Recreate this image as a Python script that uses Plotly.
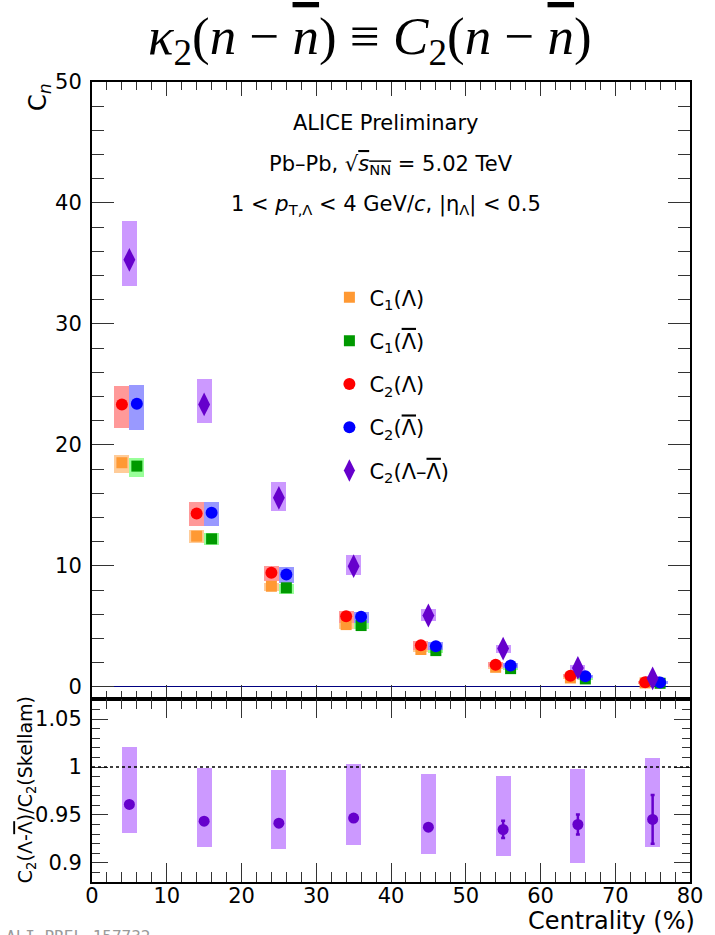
import plotly.graph_objects as go

# Centrality bins (%), bin centres
centrality = [5, 15, 25, 35, 45, 55, 65, 75]

# C1 of Lambda and anti-Lambda, with systematic band edges
c1_lam = [18.53, 12.46, 8.32, 5.15, 3.09, 1.62, 0.74, 0.33]
c1_lam_sys_hi = [19.16, 12.93, 8.60, 5.43, 3.30, 1.75, 0.82, 0.38]
c1_lam_sys_lo = [17.70, 11.91, 7.91, 4.80, 2.88, 1.49, 0.66, 0.28]
c1_alam = [18.25, 12.24, 8.19, 5.07, 3.00, 1.51, 0.66, 0.30]
c1_alam_sys_hi = [18.94, 12.74, 8.54, 5.35, 3.21, 1.64, 0.74, 0.35]
c1_alam_sys_lo = [17.34, 11.71, 7.72, 4.75, 2.79, 1.38, 0.58, 0.25]

# C2 of Lambda and anti-Lambda
c2_lam = [23.35, 14.33, 9.43, 5.84, 3.44, 1.84, 0.93, 0.38]
c2_lam_sys_hi = [24.87, 15.27, 9.98, 6.25, 3.77, 2.05, 1.07, 0.48]
c2_lam_sys_lo = [21.42, 13.34, 8.73, 5.29, 3.09, 1.63, 0.79, 0.28]
c2_alam = [23.40, 14.39, 9.29, 5.79, 3.36, 1.76, 0.88, 0.37]
c2_alam_sys_hi = [24.95, 15.30, 9.93, 6.21, 3.70, 1.97, 1.02, 0.47]
c2_alam_sys_lo = [21.22, 13.28, 8.60, 5.29, 3.02, 1.55, 0.74, 0.27]

# C2 of net-Lambda
c2_net = [35.30, 23.35, 15.63, 9.98, 5.90, 3.17, 1.57, 0.70]
c2_net_sys_hi = [38.53, 25.42, 16.96, 10.89, 6.45, 3.50, 1.84, 0.90]
c2_net_sys_lo = [33.10, 21.84, 14.52, 9.29, 5.43, 2.81, 1.16, 0.50]

# Ratio to Skellam baseline
ratio = [0.961, 0.9435, 0.9414, 0.9467, 0.9372, 0.9348, 0.940, 0.9453]
ratio_stat = [0.002, 0.002, 0.002, 0.002, 0.003, 0.009, 0.0105, 0.0255]
ratio_sys_hi = [1.021, 0.9994, 0.9973, 1.0035, 0.993, 0.9903, 0.9983, 1.0098]
ratio_sys_lo = [0.931, 0.9163, 0.9146, 0.9191, 0.909, 0.9069, 0.8999, 0.917]

# Particles drawn left of the bin centre, antiparticles right of it
SHIFT = 1.0
BOX_W = 2.0
x_lam = [c - SHIFT for c in centrality]
x_alam = [c + SHIFT for c in centrality]

SANS = "DejaVu Sans"


def over(s):
    return "<span style='text-decoration:overline'>" + s + "</span>"


ALAM = over("Λ")

fig = go.Figure()


def sys_box(x, lo, hi, color, xa="x", ya="y"):
    fig.add_trace(go.Bar(
        x=x, y=[h - l for h, l in zip(hi, lo)], base=lo, width=BOX_W,
        marker=dict(color=color, line=dict(width=0)),
        showlegend=False, hoverinfo="skip", xaxis=xa, yaxis=ya))


sys_box(x_lam, c1_lam_sys_lo, c1_lam_sys_hi, "#FFCC99")
sys_box(x_alam, c1_alam_sys_lo, c1_alam_sys_hi, "#99FF99")
sys_box(x_lam, c2_lam_sys_lo, c2_lam_sys_hi, "#FF9999")
sys_box(x_alam, c2_alam_sys_lo, c2_alam_sys_hi, "#9999FF")
sys_box(centrality, c2_net_sys_lo, c2_net_sys_hi, "#CC99FF")
sys_box(centrality, ratio_sys_lo, ratio_sys_hi, "#CC99FF", "x2", "y2")

series = [
    (x_lam, c1_lam, "square", 11, "#FF9933", "C<sub>1</sub>(Λ)"),
    (x_alam, c1_alam, "square", 11, "#009900", "C<sub>1</sub>(" + ALAM + ")"),
    (x_lam, c2_lam, "circle", 12, "#FF0000", "C<sub>2</sub>(Λ)"),
    (x_alam, c2_alam, "circle", 12, "#0000FF", "C<sub>2</sub>(" + ALAM + ")"),
    (centrality, c2_net, "diamond-tall", 17, "#6600CC",
     "C<sub>2</sub>(Λ\u2013" + ALAM + ")"),
]
for i, (x, y, sym, size, col, name) in enumerate(series):
    fig.add_trace(go.Scatter(
        x=x, y=y, mode="markers", name=name, legendgroup=f"g{i}",
        marker=dict(symbol=sym, size=size, color=col, line=dict(width=0)),
        xaxis="x", yaxis="y"))

fig.add_trace(go.Scatter(
    x=centrality, y=ratio, mode="markers", showlegend=False,
    marker=dict(symbol="circle", size=11, color="#6600CC"),
    error_y=dict(type="data", array=ratio_stat, color="#6600CC",
                 thickness=2.5, width=2),
    xaxis="x2", yaxis="y2"))

SPLIT = 0.22875
tick_font = dict(family=SANS, size=21, color="black")
frame = dict(showline=True, linecolor="black", linewidth=2,
             mirror="allticks", ticks="inside", tickcolor="#333",
             showgrid=False, tickfont=tick_font)

fig.update_layout(
    width=715, height=935,
    margin=dict(l=92, r=17, t=82, b=53),
    paper_bgcolor="white", plot_bgcolor="white",
    barmode="overlay", bargap=0,
    showlegend=True,
    legend=dict(x=0.397, y=0.756, xanchor="left", yanchor="top",
                bgcolor="rgba(0,0,0,0)", tracegroupgap=13,
                font=dict(family=SANS, size=21, color="black"),
                itemsizing="trace"),
    xaxis=dict(frame, domain=[0, 1], range=[0, 80], dtick=10, tick0=0,
               ticklen=14, showticklabels=False, anchor="y",
               minor=dict(dtick=2, ticklen=8, ticks="inside",
                          tickcolor="#333"), zeroline=False),
    yaxis=dict(frame, domain=[SPLIT, 1], range=[-1, 50], dtick=10,
               tick0=0, ticklen=22, anchor="x", ticklabelstandoff=4,
               minor=dict(dtick=2, ticklen=12, ticks="inside",
                          tickcolor="#333"),
               zeroline=True, zerolinecolor="#000080", zerolinewidth=1),
    xaxis2=dict(frame, domain=[0, 1], range=[0, 80], dtick=10, tick0=0,
                ticklen=19, anchor="y2", matches="x", ticklabelstandoff=-6,
                minor=dict(dtick=2, ticklen=10, ticks="inside",
                           tickcolor="#333"), zeroline=False),
    yaxis2=dict(frame, domain=[0, SPLIT], range=[0.88, 1.071], dtick=0.05,
                tick0=0, ticklen=16, anchor="x2", ticklabelstandoff=4,
                minor=dict(dtick=0.01, ticklen=8, ticks="inside",
                           tickcolor="#333"), zeroline=False),
)

# Skellam baseline in the ratio panel
fig.add_shape(type="line", xref="x2 domain", yref="y2", x0=0, x1=1,
              y0=1, y1=1, line=dict(color="black", width=1.5, dash="dot"))

nbar = over("<i>n</i>")
ann = [
    dict(text="<i>κ</i><sub>2</sub>(<i>n</i> − " + nbar + ") ≡ "
              "<i>C</i><sub>2</sub>(<i>n</i> − " + nbar + ")",
         x=0.465, y=1.053, font=dict(family="Liberation Serif", size=53)),
    dict(text="ALICE Preliminary", x=0.490, y=0.949,
         font=dict(family=SANS, size=21)),
    dict(text="Pb\u2013Pb, √" + over("<i>s</i><sub>NN</sub>") +
              " = 5.02 TeV", x=0.500, y=0.896,
         font=dict(family=SANS, size=21)),
    dict(text="1 < <i>p</i><sub>T,Λ</sub> < 4 GeV/<i>c</i>, "
              "|η<sub>Λ</sub>| < 0.5", x=0.492, y=0.846,
         font=dict(family=SANS, size=21)),
    dict(text="C<sub><i>n</i></sub>", x=-0.088, y=1.0, textangle=-90,
         yanchor="top", font=dict(family=SANS, size=24)),
    dict(text="C<sub>2</sub>(Λ-" + ALAM + ")/C<sub>2</sub>(Skellam)",
         x=-0.11, y=0.115, textangle=-90,
         font=dict(family=SANS, size=19)),
    dict(text="Centrality (%)", x=1.012, y=-0.049, xanchor="right",
         yanchor="middle", font=dict(family=SANS, size=24)),
    dict(text="ALI-PREL-157732", x=-0.147, y=-0.054, xanchor="left",
         yanchor="top", font=dict(family="DejaVu Sans Mono", size=16,
                                  color="#9a9a9a")),
]
for a in ann:
    a.setdefault("xanchor", "center")
    a.setdefault("yanchor", "middle")
    a["font"].setdefault("color", "black")
    fig.add_annotation(xref="paper", yref="paper", showarrow=False, **a)

fig.write_html("out.html")
